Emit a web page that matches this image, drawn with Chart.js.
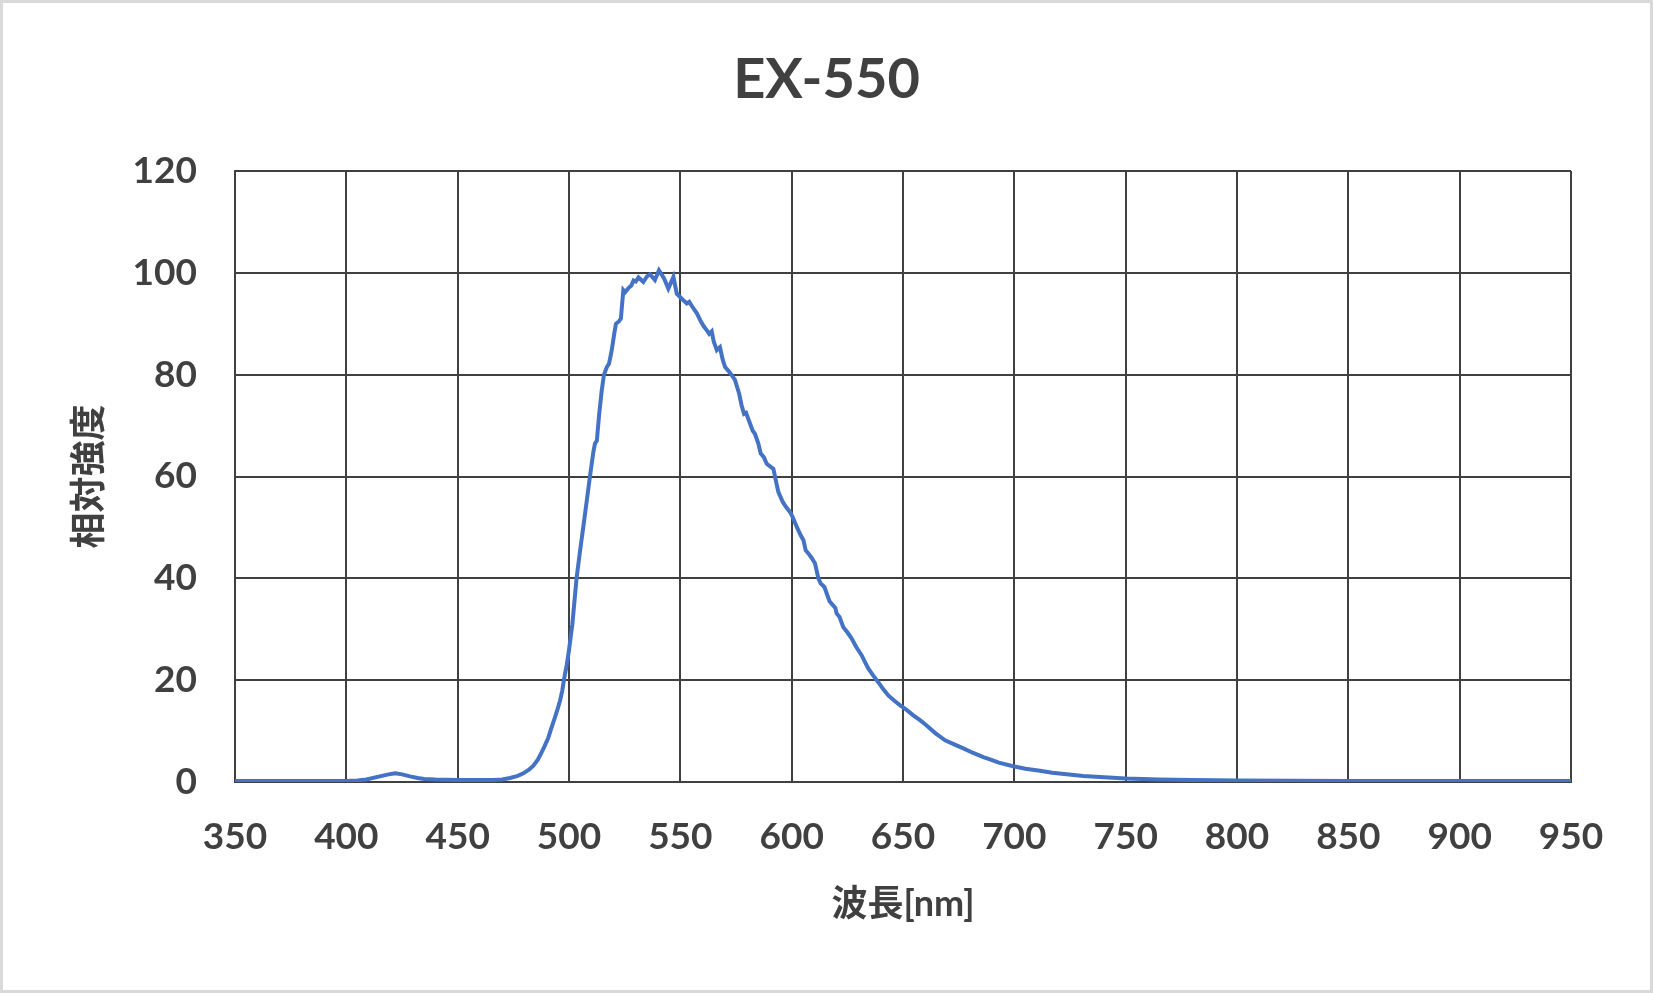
<!DOCTYPE html>
<html>
<head>
<meta charset="utf-8">
<script src="https://cdn.jsdelivr.net/npm/chart.js@4/dist/chart.umd.min.js"></script>
<style>
  html, body { margin: 0; padding: 0; background: #fff; }
  #wrap { width: 1653px; height: 993px; }
</style>
</head>
<body>
<div id="wrap"><canvas id="spectrum" width="1653" height="993"></canvas></div>
<script>
// chart text
const chartTitle = 'EX-550';
const xTitle = '波長[nm]';
const yTitle = '相対強度';

// axis ranges / tick steps
const xRange = [350, 950];
const xStep = 50;
const yRange = [0, 120];
const yStep = 20;

// spectrum
const wavelength = [
  350, 360, 370, 380, 390, 400, 405, 409, 415, 419, 422, 425, 428.6, 432, 435, 440, 450, 460, 466, 470,
  473.5, 477, 479.5, 482, 484, 486, 487.7, 489, 490.7, 492, 493.7, 495, 496, 497, 497.7, 499, 500, 501.5, 503.4, 505,
  507, 509.4, 511, 511.7, 512.5, 513.5, 514.7, 515.7, 517, 518, 519.2, 520.3, 521.1, 522.5, 523.3, 524.4, 525.2, 526.7, 528, 529,
  530, 531.2, 533.4, 535, 536.4, 538.6, 540.4, 542.7, 544.6, 546.9, 548.4, 550, 551.4, 552.9, 554, 555.9, 557.5, 558.9, 560.5, 561.9,
  563, 564.1, 565, 566.4, 567.8, 569, 570.1, 571.5, 573.1, 574.5, 576.4, 577.5, 578.6, 579.5, 581.3, 582.5, 583.5, 585, 586.1, 587.5,
  588.8, 590.3, 591.8, 593, 594, 596, 597.5, 599.3, 600.5, 602.3, 604, 605.3, 606.3, 607.5, 609, 610.5, 612, 613, 614.7, 617,
  619.6, 620.2, 621.5, 623.2, 625, 626.9, 629, 631.4, 633, 634.4, 636.5, 638.9, 641, 643.4, 646, 648.6, 651.5, 654.6, 657.5, 660.6,
  664.5, 668.9, 673, 677.1, 681.5, 686.1, 690, 693, 699.5, 705, 711.5, 717, 723.5, 731, 738.5, 750, 765, 780, 800, 825,
  850, 875, 900, 925, 950
];
const intensity = [
  0.2, 0.2, 0.2, 0.2, 0.2, 0.2, 0.3, 0.5, 1.1, 1.5, 1.7, 1.5, 1.1, 0.8, 0.6, 0.5, 0.4, 0.4, 0.4, 0.5,
  0.8, 1.2, 1.7, 2.4, 3.2, 4.4, 5.8, 7.0, 8.7, 10.5, 12.7, 14.5, 16, 18, 20, 23, 25.9, 31, 40, 45.5,
  52, 60, 65, 66.5, 67, 72, 76.9, 80, 81.5, 82.2, 84.8, 88, 90, 90.5, 91, 96.6, 96.2, 97, 97.5, 98.5,
  98.3, 99.1, 98.2, 99.3, 99.7, 98.6, 100.5, 98.9, 96.9, 99.2, 95.9, 95.2, 94.6, 94.0, 94.3, 93.0, 92.0, 90.7, 89.5, 88.7,
  88.0, 88.5, 86.5, 84.8, 85.4, 83, 81.5, 80.8, 79.9, 79, 76.3, 74, 72.3, 72.5, 70.4, 69, 68.4, 66.5, 64.5, 63.8,
  62.5, 62.0, 61.5, 59, 57, 55.0, 54, 53.0, 52, 50.1, 48.5, 47.5, 45.5, 44.9, 44, 42.9, 40, 39, 38.3, 35.5,
  34.2, 33.1, 32.4, 30.4, 29.4, 28.2, 26.5, 24.9, 23.5, 22.3, 21, 19.6, 18.3, 17.0, 16, 15.1, 14.2, 13.1, 12.2, 11.1,
  9.6, 8.2, 7.4, 6.6, 5.7, 4.9, 4.3, 3.8, 3.1, 2.6, 2.2, 1.8, 1.5, 1.2, 1.0, 0.7, 0.5, 0.4, 0.3, 0.25,
  0.2, 0.2, 0.2, 0.2, 0.2
];

const ink = '#404040';
const fontFamily = "Lato, 'Noto Sans CJK JP', sans-serif";

const points = wavelength.map((w, i) => ({ x: w, y: intensity[i] }));

// light grey frame round the whole picture, and the title centred on the canvas
const framePlugin = {
  id: 'frame',
  afterDraw(chart) {
    const ctx = chart.ctx;
    ctx.save();
    ctx.strokeStyle = '#d9d9d9';
    ctx.lineWidth = 3;
    ctx.strokeRect(1.5, 1.5, chart.width - 3, chart.height - 3);
    ctx.fillStyle = ink;
    ctx.font = 'bold 56px ' + fontFamily;
    ctx.textAlign = 'center';
    ctx.textBaseline = 'middle';
    ctx.fillText(chartTitle, chart.width / 2, 80);
    ctx.restore();
  }
};

new Chart(document.getElementById('spectrum'), {
  type: 'line',
  data: {
    datasets: [{
      data: points,
      borderColor: '#4472C4',
      borderWidth: 4,
      pointRadius: 0,
      tension: 0,
      fill: false
    }]
  },
  options: {
    responsive: false,
    animation: false,
    devicePixelRatio: 1,
    layout: { padding: { left: 0, right: 82, top: 171, bottom: 0 } },
    plugins: {
      legend: { display: false },
      tooltip: { enabled: false }
    },
    scales: {
      x: {
        type: 'linear',
        min: xRange[0],
        max: xRange[1],
        afterFit(scale) { scale.height = 211; },
        grid: { color: ink, lineWidth: 2, drawTicks: false },
        border: { color: ink, width: 2 },
        ticks: {
          stepSize: xStep,
          padding: 33,
          color: ink,
          font: { family: fontFamily, size: 37, weight: 'bold' }
        },
        title: {
          display: true,
          text: xTitle,
          color: ink,
          padding: { top: 0, bottom: 67 },
          font: { family: fontFamily, size: 36, weight: 'bold' }
        }
      },
      y: {
        min: yRange[0],
        max: yRange[1],
        afterFit(scale) { scale.width = 235; },
        grid: { color: ink, lineWidth: 2, drawTicks: false },
        border: { color: ink, width: 2 },
        ticks: {
          stepSize: yStep,
          padding: 38,
          color: ink,
          font: { family: fontFamily, size: 37, weight: 'bold' }
        },
        title: {
          display: true,
          text: yTitle,
          color: ink,
          padding: { top: 68, bottom: 0 },
          font: { family: fontFamily, size: 36, weight: 'bold' }
        }
      }
    }
  },
  plugins: [framePlugin]
});
</script>
</body>
</html>
